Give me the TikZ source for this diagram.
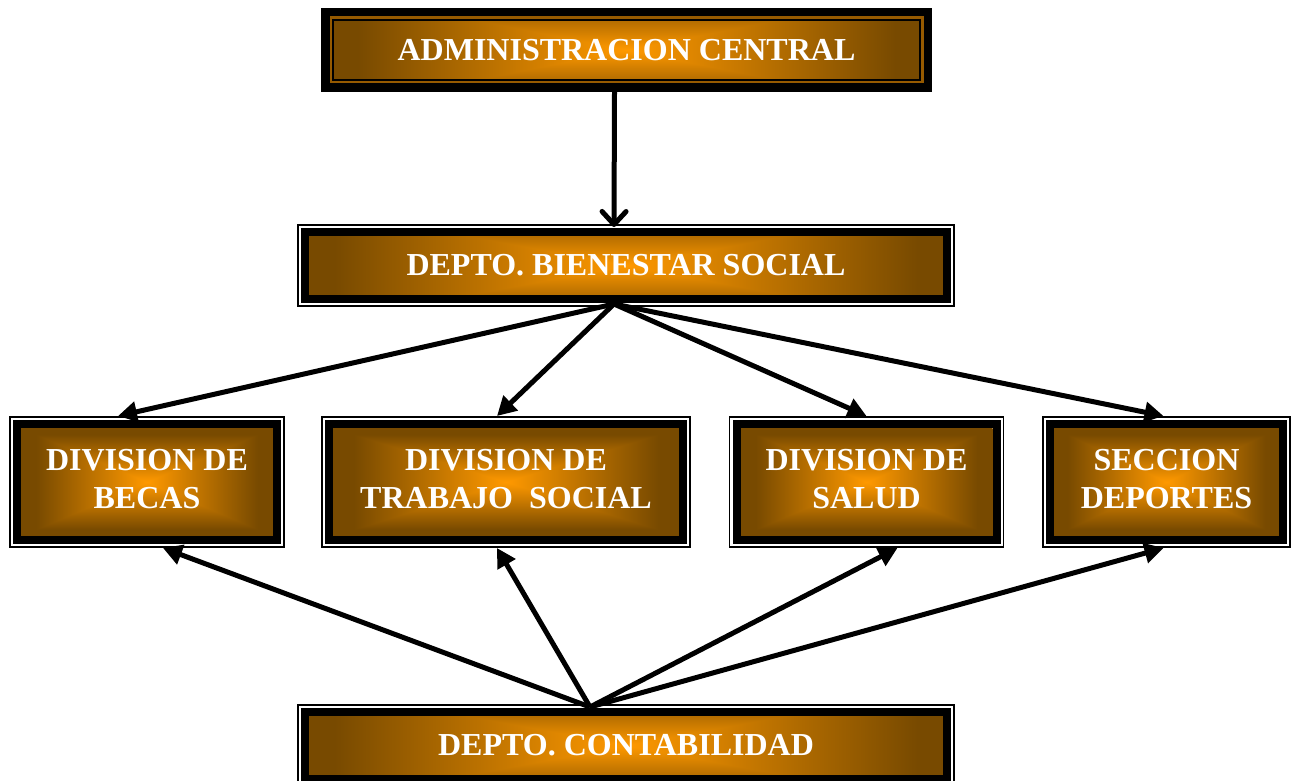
\documentclass[tikz,border=0pt]{standalone}
\usepackage{fontspec}
\setmainfont{Liberation Serif}
\usepackage{tikz}
\usepackage{xcolor}
\usetikzlibrary{calc,arrows.meta}

\definecolor{framebrown}{RGB}{150,90,0}

% orange glow, bright in the middle, brown at the rim
\pgfdeclarefunctionalshading{boxglow}{\pgfpoint{-50bp}{-50bp}}{\pgfpoint{50bp}{50bp}}{}{
  abs exch abs 2 copy lt {exch} if pop 22 div dup 1 gt {pop 1} if
  dup -0.53 mul 1 add exch -0.31 mul 0.6 add 0}
\pgfdeclarefunctionalshading{barglow}{\pgfpoint{-50bp}{-50bp}}{\pgfpoint{50bp}{50bp}}{}{
  abs 0.5 mul exch abs 2 copy lt {exch} if pop 23 div dup 1 gt {pop 1} if
  dup -0.53 mul 1 add exch -0.31 mul 0.6 add 0}

\tikzset{
  unit/.style={inner sep=0pt, outer sep=12pt, shade, text=white,
    font=\bfseries\fontsize{32}{38}\selectfont, align=center},
  divbox/.style={unit, shading=boxglow, minimum height=108pt},
  barbox/.style={unit, shading=barglow, minimum width=634pt, minimum height=59pt},
  link/.style={line width=5pt, -{Triangle[length=19pt,width=20pt]}}
}

\begin{document}
\begin{tikzpicture}[x=1pt,y=-1pt]
    \useasboundingbox (0,0) rectangle (1295,781);

    % Top box
    \node[barbox, outer sep=13pt, minimum width=585pt, minimum height=58pt] (admin) at (626.5,50) {ADMINISTRACION CENTRAL};
    \draw[line width=8.5pt] ([shift={(4.25pt,4.25pt)}]admin.south west) rectangle ([shift={(-4.25pt,-4.25pt)}]admin.north east);
    \draw[framebrown, line width=2.5pt] ([shift={(9.75pt,9.75pt)}]admin.south west) rectangle ([shift={(-9.75pt,-9.75pt)}]admin.north east);
    \draw[line width=2pt] ([shift={(12pt,12pt)}]admin.south west) rectangle ([shift={(-12pt,-12pt)}]admin.north east);

    % Departments
    \node[barbox] (bienestar) at (626,265.5) {DEPTO. BIENESTAR SOCIAL};
    \node[barbox] (contab) at (626,745.5) {DEPTO. CONTABILIDAD};

    % Divisions
    \node[divbox, minimum width=252pt] (becas) at (147,482) {DIVISION DE\\BECAS\vphantom{g}};
    \node[divbox, minimum width=346pt] (trabajo) at (506,482) {DIVISION DE\\TRABAJO~~SOCIAL\vphantom{g}};
    \node[divbox, minimum width=252pt] (salud) at (866.5,482) {DIVISION DE\\SALUD\vphantom{g}};
    \node[divbox, minimum width=225pt] (deportes) at (1166.5,482) {SECCION\\DEPORTES\vphantom{g}};

    % Frames
    \foreach \n in {bienestar,contab,becas,trabajo,salud,deportes} {
      \draw[line width=1.6pt] ([shift={(1pt,1pt)}]\n.south west) rectangle ([shift={(-1pt,-1pt)}]\n.north east);
      \draw[line width=8pt] ([shift={(8pt,8pt)}]\n.south west) rectangle ([shift={(-8pt,-8pt)}]\n.north east);
    }

    % Arrows
    \draw[line width=5pt, line cap=round, -{Straight Barb[length=13pt,width=24pt,round]}]
      ([xshift=-12pt]admin.south) -- ([xshift=-12pt,yshift=-3pt]bienestar.north);

    \coordinate (fan) at ([xshift=-12pt,yshift=3pt]bienestar.south);
    \draw[link] (fan) -- ([xshift=-29pt]becas.north);
    \draw[link] (fan) -- ([xshift=-9pt]trabajo.north);
    \draw[link] (fan) -- (salud.north);
    \draw[link] (fan) -- ([xshift=-3pt]deportes.north);

    \coordinate (base) at ([xshift=-36pt,yshift=-3pt]contab.north);
    \draw[link] (base) -- ([xshift=16pt]becas.south);
    \draw[link] (base) -- ([xshift=-9pt]trabajo.south);
    \draw[link] (base) -- ([xshift=31pt]salud.south);
    \draw[link] (base) -- ([xshift=-3pt]deportes.south);

\end{tikzpicture}
\end{document}
